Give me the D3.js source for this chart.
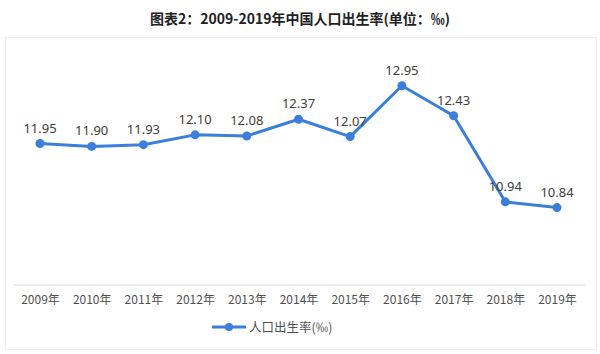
<!DOCTYPE html>
<html>
<head>
<meta charset="utf-8">
<script src="https://cdn.jsdelivr.net/npm/d3@7"></script>
<style>
  body { margin: 0; background: #fff; }
  svg { display: block; font-family: "Microsoft YaHei", "Noto Sans CJK SC", sans-serif; }
</style>
</head>
<body>
<svg id="chart" width="600" height="354"></svg>
<script>
// Daten
const years = ["2009年","2010年","2011年","2012年","2013年","2014年","2015年","2016年","2017年","2018年","2019年"];
const birthRate = [11.95, 11.90, 11.93, 12.10, 12.08, 12.37, 12.07, 12.95, 12.43, 10.94, 10.84];
const seriesName = "人口出生率(‰)";
const title = "图表2：2009-2019年中国人口出生率(单位：‰)";

const svg = d3.select("#chart");
const blue = "#3b7fdb";

svg.append("text")
    .attr("x", 300).attr("y", 24)
    .attr("text-anchor", "middle")
    .attr("font-size", 14).attr("font-weight", "bold")
    .attr("fill", "#222")
    .text(title);

// heller Rahmen um den Diagrammbereich
svg.append("rect")
    .attr("x", 5.5).attr("y", 37.5)
    .attr("width", 591).attr("height", 312)
    .attr("fill", "none")
    .attr("stroke", "#f0f0f0");

const x = d3.scalePoint().domain(years).range([40, 557]);
const y = d3.scaleLinear().domain([9.5, 13.5]).range([285, 54]);

// Achse unten
svg.append("line")
    .attr("x1", 14).attr("x2", 585)
    .attr("y1", y(9.5)).attr("y2", y(9.5))
    .attr("stroke", "#d9d9d9");

const xAxis = svg.append("g")
    .attr("transform", "translate(0," + y(9.5) + ")")
    .call(d3.axisBottom(x).tickSize(0).tickPadding(10));
xAxis.select(".domain").remove();
xAxis.selectAll("text")
    .attr("font-size", 12)
    .attr("fill", "#505050")
    .attr("font-family", "\"Noto Sans CJK SC\", sans-serif");

const line = d3.line()
    .x((d, i) => x(years[i]))
    .y(d => y(d));

svg.append("path")
    .datum(birthRate)
    .attr("fill", "none")
    .attr("stroke", blue)
    .attr("stroke-width", 3)
    .attr("stroke-linejoin", "round")
    .attr("d", line);

svg.selectAll("circle.pt")
    .data(birthRate)
    .enter().append("circle")
    .attr("class", "pt")
    .attr("cx", (d, i) => x(years[i]))
    .attr("cy", d => y(d))
    .attr("r", 4.5)
    .attr("fill", blue);

svg.selectAll("text.lbl")
    .data(birthRate)
    .enter().append("text")
    .attr("class", "lbl")
    .attr("x", (d, i) => x(years[i]))
    .attr("y", d => y(d) - 11)
    .attr("text-anchor", "middle")
    .attr("font-size", 13)
    .attr("fill", "#404040")
    .attr("font-family", "\"Noto Sans\", sans-serif")
    .text(d => d.toFixed(2));

// Legende
const lg = svg.append("g").attr("transform", "translate(212,327)");
lg.append("line").attr("x1", 0).attr("x2", 34).attr("y1", 0).attr("y2", 0)
    .attr("stroke", blue).attr("stroke-width", 3);
lg.append("circle").attr("cx", 17).attr("cy", 0).attr("r", 4).attr("fill", blue);
lg.append("text").attr("x", 37).attr("y", 4.5)
    .attr("font-size", 12.5).attr("fill", "#505050")
    .text(seriesName);
</script>
</body>
</html>
